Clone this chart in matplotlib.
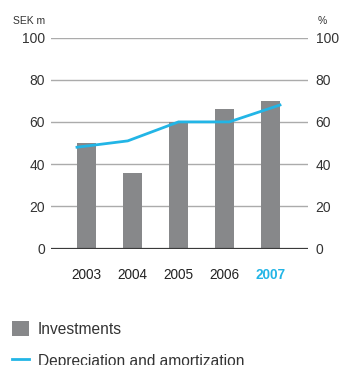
import matplotlib
matplotlib.use("Agg")
import matplotlib.pyplot as plt
import numpy as np

years = ["2003", "2004", "2005", "2006", "2007"]
investments = [50, 36, 60, 66, 70]
depreciation = [48, 51, 60, 60, 68]
yticks = [0, 20, 40, 60, 80, 100]
left_unit = "SEK m"
right_unit = "%"
legend_labels = ["Investments", "Depreciation and amortization"]

plt.rcParams['font.family'] = ['Liberation Sans', 'DejaVu Sans']

BAR = "#87888a"
BLUE = "#22b5e6"
TXT = "#333333"
GRID = "#ababab"

fig = plt.figure(figsize=(3.4, 3.65), dpi=100)
W, H = 340, 365
ax = fig.add_axes([51 / W, 1 - 248.5 / H, (308 - 51) / W, (248.5 - 37.5) / H])

x = np.arange(len(years))
bw = 19 / 46
bars = ax.bar(x, investments, width=bw, color=BAR, zorder=2, label=legend_labels[0])
ax.set_xlim((51 - 86.5) / 46, (308 - 86.5) / 46)
ax.set_ylim(0, 100)
ax.set_yticks(yticks)
for t in yticks[1:]:
    ax.axhline(t, color=GRID, lw=1.0, zorder=1)
ax.axhline(0, color="#3a3a3a", lw=1.6, zorder=3)
for s in ax.spines.values():
    s.set_visible(False)
ax.tick_params(axis='y', length=0, pad=4.5, labelsize=10, labelcolor=TXT)
ax.set_xticks(x)
ax.set_xticklabels(years)
ax.tick_params(axis='x', length=0, pad=14, labelsize=9.8, labelcolor="#222222")
for lab in ax.get_xticklabels():
    lab.set_fontweight('medium')
lab = ax.get_xticklabels()[-1]
lab.set_color(BLUE)
lab.set_fontweight('bold')

ax2 = ax.twinx()
ax2.set_ylim(0, 100)
ax2.set_yticks(yticks)
for s in ax2.spines.values():
    s.set_visible(False)
ax2.tick_params(axis='y', length=0, pad=5.5, labelsize=10, labelcolor=TXT)
lx = np.linspace(-bw / 2, len(years) - 1 + bw / 2, len(years))
line, = ax2.plot(lx, depreciation, color=BLUE, lw=2.0, zorder=4, label=legend_labels[1],
                 solid_joinstyle='miter')

fig.text(13 / W, 1 - 20.5 / H, left_unit, fontsize=7.5, color=TXT, va='center', ha='left')
fig.text(318 / W, 1 - 20.5 / H, right_unit, fontsize=7.5, color=TXT, va='center', ha='left')

fs = 11.2
leg = fig.legend(handles=[bars, line], labels=legend_labels, loc='upper left',
                 bbox_to_anchor=(12 / W, 1 - 321 / H), frameon=False,
                 fontsize=fs, handlelength=17 / (fs * 100 / 72), handleheight=17 / (fs * 100 / 72),
                 handletextpad=0.55, labelspacing=1.05, borderpad=0, borderaxespad=0)
for t in leg.get_texts():
    t.set_color(TXT)

fig.savefig("out.png", dpi=100)
